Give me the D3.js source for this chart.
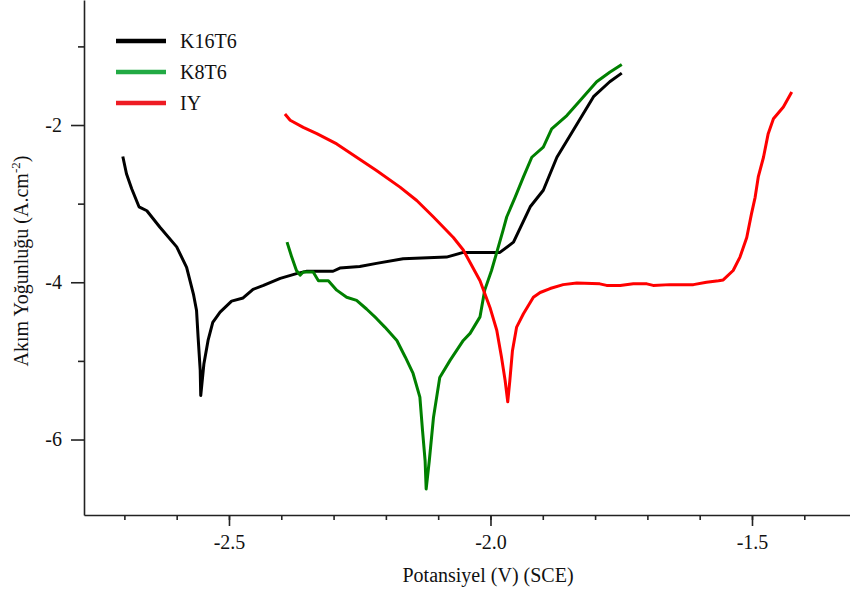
<!DOCTYPE html>
<html>
<head>
<meta charset="utf-8">
<script src="https://cdn.jsdelivr.net/npm/d3@7"></script>
<style>
    body { margin: 0; background: #fff; }
    svg text { font-family: "Liberation Serif", "Times New Roman", serif; fill: #111; }
</style>
</head>
<body>
<div id="chart"></div>
<script>
// potential (V vs SCE) and log current density
const k16t6_v = [-2.703, -2.696, -2.686, -2.672, -2.657, -2.632, -2.600, -2.581, -2.568, -2.562, -2.559, -2.555, -2.554,
    -2.548, -2.540, -2.531, -2.517, -2.495, -2.473, -2.454, -2.434, -2.402, -2.371, -2.351, -2.301, -2.288, -2.250,
    -2.218, -2.167, -2.084, -2.052, -2.001, -1.982, -1.956, -1.924, -1.899, -1.873, -1.842, -1.803, -1.772, -1.749]
const k16t6_i = [-2.40, -2.62, -2.81, -3.04, -3.09, -3.30, -3.55, -3.81, -4.15, -4.36, -4.70, -5.12, -5.44,
    -5.04, -4.74, -4.51, -4.38, -4.24, -4.20, -4.09, -4.04, -3.95, -3.89, -3.86, -3.86, -3.82, -3.80,
    -3.76, -3.70, -3.68, -3.62, -3.62, -3.62, -3.49, -3.04, -2.83, -2.41, -2.07, -1.64, -1.45, -1.34]

const k8t6_v = [-2.389, -2.380, -2.371, -2.364, -2.358, -2.339, -2.329, -2.310, -2.294, -2.275, -2.256, -2.237, -2.218,
    -2.202, -2.179, -2.163, -2.148, -2.135, -2.130, -2.125, -2.123, -2.117, -2.109, -2.097, -2.077, -2.052, -2.039,
    -2.020, -2.011, -1.998, -1.988, -1.976, -1.969, -1.953, -1.937, -1.921, -1.899, -1.883, -1.854, -1.829, -1.797,
    -1.772, -1.749]
const k8t6_i = [-3.49, -3.68, -3.85, -3.91, -3.87, -3.87, -3.98, -3.98, -4.10, -4.19, -4.23, -4.34, -4.46,
    -4.57, -4.74, -4.95, -5.16, -5.46, -5.88, -6.27, -6.63, -6.27, -5.72, -5.21, -4.99, -4.74, -4.65,
    -4.44, -4.10, -3.85, -3.62, -3.34, -3.17, -2.92, -2.66, -2.41, -2.28, -2.05, -1.88, -1.69, -1.45,
    -1.33, -1.23]

const iy_v = [-2.393, -2.383, -2.358, -2.332, -2.294, -2.256, -2.218, -2.173, -2.141, -2.109, -2.071, -2.052, -2.020,
    -2.001, -1.988, -1.979, -1.972, -1.967, -1.963, -1.958, -1.950, -1.937, -1.918, -1.905, -1.886, -1.861, -1.835,
    -1.791, -1.778, -1.752, -1.727, -1.701, -1.689, -1.657, -1.612, -1.587, -1.564, -1.555, -1.536, -1.523, -1.510,
    -1.501, -1.494, -1.488, -1.478, -1.469, -1.459, -1.440, -1.424]
const iy_i = [-1.86, -1.94, -2.03, -2.11, -2.24, -2.41, -2.58, -2.79, -2.96, -3.17, -3.43, -3.59, -3.98,
    -4.32, -4.61, -4.95, -5.25, -5.52, -5.25, -4.87, -4.57, -4.40, -4.19, -4.13, -4.08, -4.03, -4.01,
    -4.02, -4.04, -4.04, -4.02, -4.02, -4.04, -4.03, -4.03, -4.00, -3.98, -3.97, -3.85, -3.68, -3.43,
    -3.13, -2.92, -2.66, -2.41, -2.11, -1.92, -1.77, -1.58]

const series_names = ["K16T6", "K8T6", "IY"]
const series_colors = ["#000000", "#008000", "#ff0000"]
const legend_colors = ["#000000", "#22aa44", "#ee1c24"]

const x_ticks = [-2.5, -2.0, -1.5]
const y_ticks = [-2, -4, -6]

const x_title = "Potansiyel (V) (SCE)"

const width = 850, height = 597
const plot = {left: 84, right: 850, top: 0, bottom: 515}

let svg = d3.select("#chart")
    .append("svg")
    .attr("width", width)
    .attr("height", height)

const x = d3.scaleLinear()
    .domain([-2.7772, -1.3126])
    .range([plot.left, plot.right])
const y = d3.scaleLinear()
    .domain([-6.96, -0.41])
    .range([plot.bottom, plot.top])

// minor ticks first, then major axes on top
svg.append("g")
    .attr("transform", "translate(0," + plot.bottom + ")")
    .call(d3.axisBottom(x)
        .tickValues(d3.range(-2.7, -1.3, 0.1).map(d => +d.toFixed(1)))
        .tickSize(5)
        .tickFormat(""))
    .call(g => g.select(".domain").remove())
svg.append("g")
    .attr("transform", "translate(" + plot.left + ",0)")
    .call(d3.axisLeft(y)
        .tickValues([-1, -3, -5])
        .tickSize(6)
        .tickFormat(""))
    .call(g => g.select(".domain").remove())

let x_axis = svg.append("g")
    .attr("transform", "translate(0," + plot.bottom + ")")
    .call(d3.axisBottom(x)
        .tickValues(x_ticks)
        .tickSizeInner(11)
        .tickSizeOuter(0)
        .tickPadding(9)
        .tickFormat(d3.format(".1f")))
x_axis.selectAll("text")
    .style("font-size", "20px")
    .text(d => d3.format(".1f")(d).replace("−", "-"))

let y_axis = svg.append("g")
    .attr("transform", "translate(" + plot.left + ",0)")
    .call(d3.axisLeft(y)
        .tickValues(y_ticks)
        .tickSizeInner(13)
        .tickSizeOuter(0)
        .tickPadding(9))
y_axis.selectAll("text")
    .style("font-size", "20px")
    .text(d => String(d))

svg.selectAll(".domain, .tick line")
    .attr("stroke", "#222")
    .attr("stroke-width", 1.6)

svg.append("text")
    .attr("x", 488)
    .attr("y", 582)
    .attr("text-anchor", "middle")
    .style("font-size", "20px")
    .text(x_title)

let y_title = svg.append("text")
    .attr("transform", "translate(28,261) rotate(-90)")
    .attr("text-anchor", "middle")
    .style("font-size", "20px")
y_title.append("tspan").text("Akım Yoğunluğu (A.cm")
y_title.append("tspan").attr("dy", -8).style("font-size", "13px").text("-2")
y_title.append("tspan").attr("dy", 8).text(")")

const datasets = [
    d3.zip(k16t6_v, k16t6_i),
    d3.zip(k8t6_v, k8t6_i),
    d3.zip(iy_v, iy_i)
]

const line = d3.line()
    .x(d => x(d[0]))
    .y(d => y(d[1]))

for (let i = 0; i < datasets.length; i++) {
    svg.append("path")
        .datum(datasets[i])
        .attr("fill", "none")
        .attr("stroke", series_colors[i])
        .attr("stroke-width", 3)
        .attr("stroke-linejoin", "round")
        .attr("d", line)
}

let legend = svg.append("g")
for (let i = 0; i < series_names.length; i++) {
    const ly = 41 + i * 31
    legend.append("line")
        .attr("x1", 116)
        .attr("x2", 166)
        .attr("y1", ly)
        .attr("y2", ly)
        .attr("stroke", legend_colors[i])
        .attr("stroke-width", 4.5)
    legend.append("text")
        .attr("x", 180)
        .attr("y", ly + 7)
        .style("font-size", "20px")
        .text(series_names[i])
}
</script>
</body>
</html>
